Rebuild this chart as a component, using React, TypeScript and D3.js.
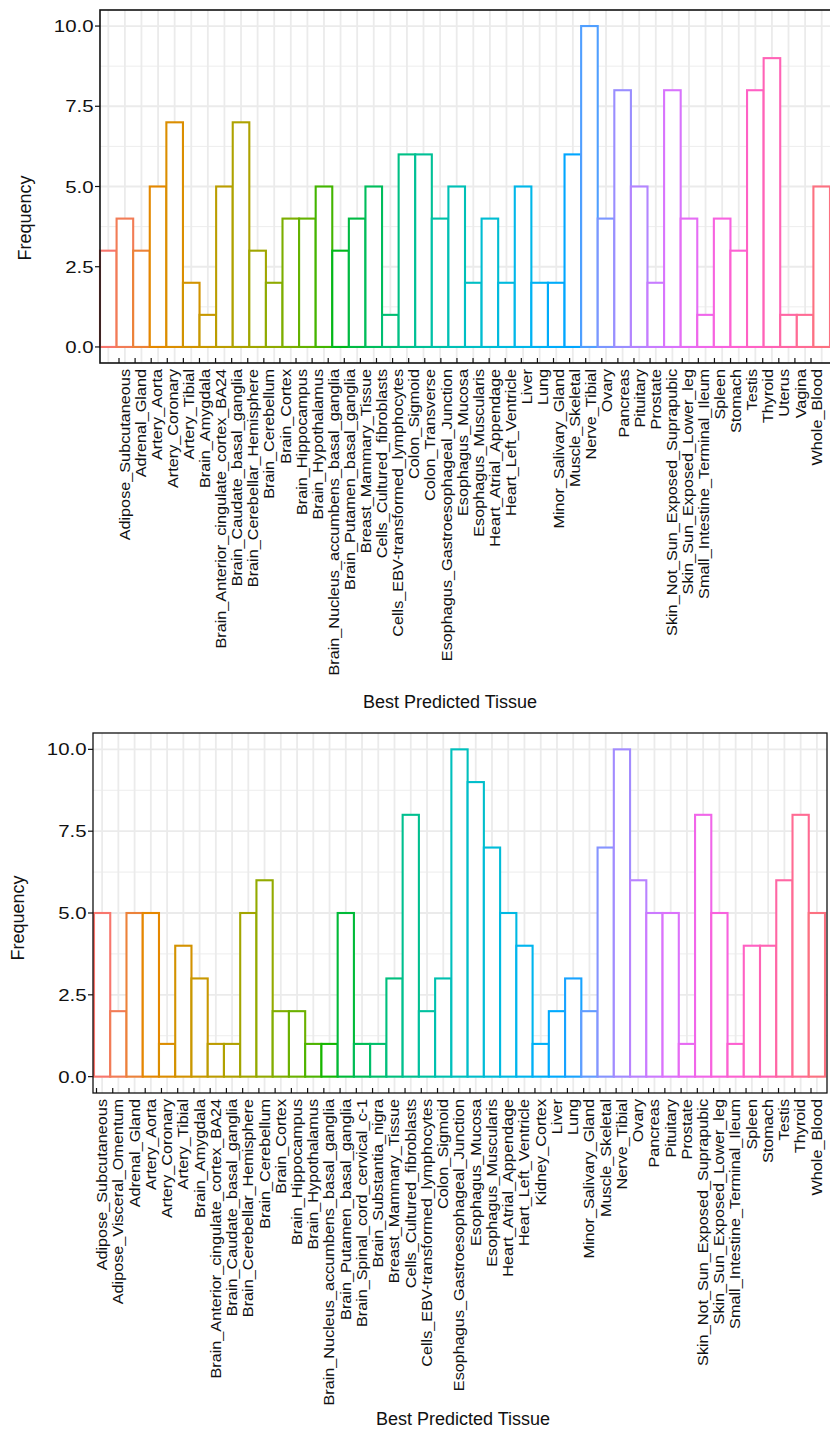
import React from 'react';
import * as d3 from 'd3';

// top panel
const topTissues = [
  'Adipose_Subcutaneous', 'Adrenal_Gland', 'Artery_Aorta', 'Artery_Coronary', 'Artery_Tibial',
  'Brain_Amygdala', 'Brain_Anterior_cingulate_cortex_BA24', 'Brain_Caudate_basal_ganglia',
  'Brain_Cerebellar_Hemisphere', 'Brain_Cerebellum', 'Brain_Cortex', 'Brain_Hippocampus',
  'Brain_Hypothalamus', 'Brain_Nucleus_accumbens_basal_ganglia', 'Brain_Putamen_basal_ganglia',
  'Breast_Mammary_Tissue', 'Cells_Cultured_fibroblasts', 'Cells_EBV-transformed_lymphocytes',
  'Colon_Sigmoid', 'Colon_Transverse', 'Esophagus_Gastroesophageal_Junction', 'Esophagus_Mucosa',
  'Esophagus_Muscularis', 'Heart_Atrial_Appendage', 'Heart_Left_Ventricle', 'Liver', 'Lung',
  'Minor_Salivary_Gland', 'Muscle_Skeletal', 'Nerve_Tibial', 'Ovary', 'Pancreas', 'Pituitary',
  'Prostate', 'Skin_Not_Sun_Exposed_Suprapubic', 'Skin_Sun_Exposed_Lower_leg',
  'Small_Intestine_Terminal_Ileum', 'Spleen', 'Stomach', 'Testis', 'Thyroid', 'Uterus', 'Vagina',
  'Whole_Blood',
];
const topCounts = [
  3, 4, 3, 5, 7, 2, 1, 5, 7, 3, 2, 4, 4, 5, 3, 4, 5, 1, 6, 6, 4, 5,
  2, 4, 2, 5, 2, 2, 6, 10, 4, 8, 5, 2, 8, 4, 1, 4, 3, 8, 9, 1, 1, 5,
];

// bottom panel
const bottomTissues = [
  'Adipose_Subcutaneous', 'Adipose_Visceral_Omentum', 'Adrenal_Gland', 'Artery_Aorta',
  'Artery_Coronary', 'Artery_Tibial', 'Brain_Amygdala', 'Brain_Anterior_cingulate_cortex_BA24',
  'Brain_Caudate_basal_ganglia', 'Brain_Cerebellar_Hemisphere', 'Brain_Cerebellum', 'Brain_Cortex',
  'Brain_Hippocampus', 'Brain_Hypothalamus', 'Brain_Nucleus_accumbens_basal_ganglia',
  'Brain_Putamen_basal_ganglia', 'Brain_Spinal_cord_cervical_c-1', 'Brain_Substantia_nigra',
  'Breast_Mammary_Tissue', 'Cells_Cultured_fibroblasts', 'Cells_EBV-transformed_lymphocytes',
  'Colon_Sigmoid', 'Esophagus_Gastroesophageal_Junction', 'Esophagus_Mucosa',
  'Esophagus_Muscularis', 'Heart_Atrial_Appendage', 'Heart_Left_Ventricle', 'Kidney_Cortex',
  'Liver', 'Lung', 'Minor_Salivary_Gland', 'Muscle_Skeletal', 'Nerve_Tibial', 'Ovary', 'Pancreas',
  'Pituitary', 'Prostate', 'Skin_Not_Sun_Exposed_Suprapubic', 'Skin_Sun_Exposed_Lower_leg',
  'Small_Intestine_Terminal_Ileum', 'Spleen', 'Stomach', 'Testis', 'Thyroid', 'Whole_Blood',
];
const bottomCounts = [
  5, 2, 5, 5, 1, 4, 3, 1, 1, 5, 6, 2, 2, 1, 1, 5, 1, 1, 3, 8, 2, 3, 10,
  9, 7, 5, 4, 1, 2, 3, 2, 7, 10, 6, 5, 5, 1, 8, 5, 1, 4, 4, 6, 8, 5,
];

const yTicks = [0, 2.5, 5, 7.5, 10];
const yMinor = [1.25, 3.75, 6.25, 8.75];

const FONT = '"Liberation Sans", Arial, Helvetica, sans-serif';

// ggplot's default hue palette (polar LUV, l = 65, c = 100)
function luvHex(L: number, C: number, hDeg: number) {
  const h = (hDeg * Math.PI) / 180;
  const u = C * Math.cos(h);
  const v = C * Math.sin(h);
  const Xn = 95.047, Yn = 100, Zn = 108.883;
  const un = (4 * Xn) / (Xn + 15 * Yn + 3 * Zn);
  const vn = (9 * Yn) / (Xn + 15 * Yn + 3 * Zn);
  const Y = L > 8 ? Yn * Math.pow((L + 16) / 116, 3) : (Yn * L) / 903.3;
  const up = u / (13 * L) + un;
  const vp = v / (13 * L) + vn;
  const X = (Y * 9 * up) / (4 * vp);
  const Z = (Y * (12 - 3 * up - 20 * vp)) / (4 * vp);
  const x = X / 100, y = Y / 100, z = Z / 100;
  const lin = [
    3.2404542 * x - 1.5371385 * y - 0.4985314 * z,
    -0.969266 * x + 1.8760108 * y + 0.041556 * z,
    0.0556434 * x - 0.2040259 * y + 1.0572252 * z,
  ];
  const [r, g, b] = lin.map((c) => {
    const s = c <= 0.0031308 ? 12.92 * c : 1.055 * Math.pow(c, 1 / 2.4) - 0.055;
    return Math.round(Math.max(0, Math.min(1, s)) * 255);
  });
  return d3.rgb(r, g, b).formatHex();
}

const huePalette = (n: number) => d3.range(n).map((i) => luvHex(65, 100, 15 + (360 * i) / n));

interface PanelProps {
  tissues: string[];
  counts: number[];
  left: number;
  top: number;
  bottom: number;
  barRange: [number, number];
  tickRange: [number, number];
  frameRight: number;
  frameWidth: number;
  yTitle: [number, number];
  xTitle: [number, number];
}

const Panel: React.FC<PanelProps> = ({
  tissues, counts, left, top, bottom, barRange, tickRange, frameRight, frameWidth, yTitle, xTitle,
}) => {
  const x = d3.scaleBand<string>().domain(tissues).range(barRange).padding(0);
  const xTick = d3.scalePoint<string>().domain(tissues).range(tickRange);
  const y = d3.scaleLinear().domain([-0.5, 10.5]).range([bottom, top]);
  const colors = huePalette(tissues.length);
  const half = x.bandwidth() / 2;
  const labX = left - 6.5;

  return (
    <g>
      {/* grid */}
      {yMinor.map((v) => (
        <line key={'mn' + v} x1={left} x2={frameRight} y1={y(v)} y2={y(v)} stroke="#EDEDED" strokeWidth={1} />
      ))}
      {yTicks.map((v) => (
        <line key={'mj' + v} x1={left} x2={frameRight} y1={y(v)} y2={y(v)} stroke="#EBEBEB" strokeWidth={1.8} />
      ))}
      {tissues.map((t) => (
        <line key={'vg' + t} x1={(x(t) ?? 0) + half} x2={(x(t) ?? 0) + half} y1={top} y2={bottom}
          stroke="#EBEBEB" strokeWidth={1.8} />
      ))}

      {/* bars */}
      {tissues.map((t, i) => (
        <rect key={'b' + t} x={x(t)} width={x.bandwidth()} y={y(counts[i])} height={y(0) - y(counts[i])}
          fill="white" stroke={colors[i]} strokeWidth={2.1} />
      ))}

      {/* frame */}
      <rect x={left} y={top} width={frameRight - left} height={bottom - top} fill="none" stroke="#111"
        strokeWidth={frameWidth} />

      {/* y axis */}
      {yTicks.map((v) => (
        <g key={'yt' + v}>
          <line x1={left - 5} x2={left} y1={y(v)} y2={y(v)} stroke="#111" strokeWidth={1.2} />
          <text x={labX} y={y(v)} dy="0.36em" textAnchor="end" fontFamily={FONT} fontSize={17} fill="#111"
            transform={`translate(${labX},0) scale(1.2,1) translate(${-labX},0)`}>
            {v.toFixed(1)}
          </text>
        </g>
      ))}

      {/* x axis: ticks drawn inward, labels rotated and a little elongated */}
      {tissues.map((t) => {
        const tx = xTick(t) ?? 0;
        return (
          <g key={'xt' + t}>
            <line x1={tx} x2={tx} y1={bottom - 5} y2={bottom} stroke="#111" strokeWidth={1.2} />
            <text transform={`translate(${tx + 6},${bottom + 6}) rotate(-90) scale(1.12,1)`} dy="0.32em"
              textAnchor="end" fontFamily={FONT} fontSize={14.5} fill="#111">
              {t}
            </text>
          </g>
        );
      })}

      <text transform={`translate(${yTitle[0]},${yTitle[1]}) rotate(-90)`} dy="0.35em" textAnchor="middle"
        fontFamily={FONT} fontSize={18} fill="#111">
        Frequency
      </text>
      <text x={xTitle[0]} y={xTitle[1]} textAnchor="middle" fontFamily={FONT} fontSize={18} fill="#111">
        Best Predicted Tissue
      </text>
    </g>
  );
};

export default function App() {
  return (
    <svg width={830} height={1430} style={{ position: 'absolute', left: 0, top: 0, background: 'white' }}>
      <rect width={830} height={1430} fill="white" />
      <Panel
        tissues={topTissues}
        counts={topCounts}
        left={100}
        top={10}
        bottom={363}
        barRange={[100, 830]}
        tickRange={[119, 811]}
        frameRight={834}
        frameWidth={1.6}
        yTitle={[25, 218]}
        xTitle={[450, 708]}
      />
      <Panel
        tissues={bottomTissues}
        counts={bottomCounts}
        left={93}
        top={733}
        bottom={1093}
        barRange={[94, 825]}
        tickRange={[96.5, 811]}
        frameRight={827}
        frameWidth={1.3}
        yTitle={[18, 918]}
        xTitle={[463, 1425]}
      />
    </svg>
  );
}
